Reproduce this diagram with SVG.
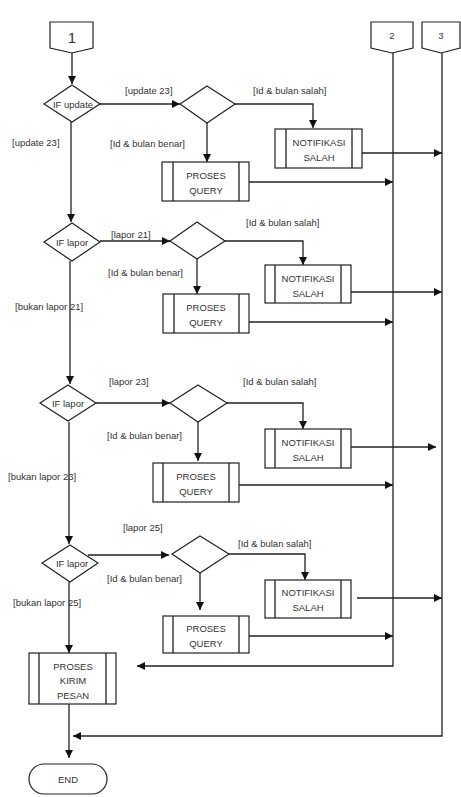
<svg xmlns="http://www.w3.org/2000/svg" width="461" height="797" viewBox="0 0 461 797">
<style>
.s{fill:#fff;stroke:#222;stroke-width:1.2}
.l{fill:none;stroke:#222;stroke-width:1.3}
.t{font-family:"Liberation Sans",Arial,sans-serif;font-size:9.5px;fill:#333;text-anchor:middle;dominant-baseline:central}
.lb{font-family:"Liberation Sans",Arial,sans-serif;font-size:9.5px;fill:#333;dominant-baseline:central}
</style>
<defs>
<marker id="ah" viewBox="0 0 10 10" refX="10" refY="5" markerWidth="9" markerHeight="8" markerUnits="userSpaceOnUse" orient="auto"><path d="M0,0 L10,5 L0,10 z" fill="#111"/></marker>
</defs>
<rect width="461" height="797" fill="#fff"/>

<g id="connectors">
<path class="l" d="M72,53 V84" marker-end="url(#ah)"/>
<path class="l" d="M100,104 H180" marker-end="url(#ah)"/>
<path class="l" d="M207,123 V162" marker-end="url(#ah)"/>
<path class="l" d="M235,104 H313 V128" marker-end="url(#ah)"/>
<path class="l" d="M362,153 H442" marker-end="url(#ah)"/>
<path class="l" d="M249,182 H393" marker-end="url(#ah)"/>
<path class="l" d="M71,122 V222" marker-end="url(#ah)"/>

<path class="l" d="M100,241 H170" marker-end="url(#ah)"/>
<path class="l" d="M197,259 V294" marker-end="url(#ah)"/>
<path class="l" d="M225,241 H303 V265" marker-end="url(#ah)"/>
<path class="l" d="M351,292 H442" marker-end="url(#ah)"/>
<path class="l" d="M249,322 H393" marker-end="url(#ah)"/>
<path class="l" d="M70,261 V384" marker-end="url(#ah)"/>

<path class="l" d="M96,403 H170" marker-end="url(#ah)"/>
<path class="l" d="M198,422 V461" marker-end="url(#ah)"/>
<path class="l" d="M227,403 H303 V429" marker-end="url(#ah)"/>
<path class="l" d="M351,447 H436" marker-end="url(#ah)"/>
<path class="l" d="M239,485 H393" marker-end="url(#ah)"/>
<path class="l" d="M69,422 V544" marker-end="url(#ah)"/>

<path class="l" d="M88,555 H169" marker-end="url(#ah)"/>
<path class="l" d="M200,573 V610" marker-end="url(#ah)"/>
<path class="l" d="M229,554 H305 V580" marker-end="url(#ah)"/>
<path class="l" d="M357,598 H442" marker-end="url(#ah)"/>
<path class="l" d="M249,636 H393" marker-end="url(#ah)"/>
<path class="l" d="M69,582 V653" marker-end="url(#ah)"/>

<path class="l" d="M393,53 V666 H137" marker-end="url(#ah)"/>
<path class="l" d="M442,53 V736 H73" marker-end="url(#ah)"/>
<path class="l" d="M69,704 V758" marker-end="url(#ah)"/>
</g>

<g id="c1"><path class="s" d="M50,22 H93 V48 L72,53 L50,48 Z"/><text class="t" x="72" y="37" style="font-size:15px">1</text></g>
<g id="c2"><path class="s" d="M371,22 H413 V48 L392,53 L371,48 Z"/><text class="t" x="392" y="35">2</text></g>
<g id="c3"><path class="s" d="M422,22 H460 V48 L441,53 L422,48 Z"/><text class="t" x="441" y="35">3</text></g>

<g id="if-update"><path class="s" d="M72,85 L100,104 L72,122 L44,104 Z"/><text class="t" x="73" y="104">IF update</text></g>
<g id="dec1"><path class="s" d="M207,86 L235,104 L207,123 L180,104 Z"/></g>
<g id="pq1"><rect class="s" x="162" y="162" width="87" height="39"/><path class="l" d="M173,162 V201 M239,162 V201"/><text class="t" x="206" y="175">PROSES</text><text class="t" x="206" y="190">QUERY</text></g>
<g id="nt1"><rect class="s" x="275" y="129" width="87" height="39"/><path class="l" d="M286,129 V168 M352,129 V168"/><text class="t" x="319" y="142">NOTIFIKASI</text><text class="t" x="319" y="157">SALAH</text></g>

<g id="if-lapor1"><path class="s" d="M72,223 L100,242 L72,261 L44,242 Z"/><text class="t" x="72" y="242">IF lapor</text></g>
<g id="dec2"><path class="s" d="M197,222 L225,241 L197,259 L170,241 Z"/></g>
<g id="pq2"><rect class="s" x="163" y="294" width="86" height="39"/><path class="l" d="M174,294 V333 M239,294 V333"/><text class="t" x="206" y="307">PROSES</text><text class="t" x="206" y="322">QUERY</text></g>
<g id="nt2"><rect class="s" x="265" y="265" width="86" height="38"/><path class="l" d="M275,265 V303 M341,265 V303"/><text class="t" x="308" y="278">NOTIFIKASI</text><text class="t" x="308" y="293">SALAH</text></g>

<g id="if-lapor2"><path class="s" d="M68,385 L96,403 L68,421 L40,403 Z"/><text class="t" x="68" y="403">IF lapor</text></g>
<g id="dec3"><path class="s" d="M198,385 L227,403 L198,422 L170,403 Z"/></g>
<g id="pq3"><rect class="s" x="153" y="463" width="86" height="39"/><path class="l" d="M163,463 V502 M229,463 V502"/><text class="t" x="196" y="476">PROSES</text><text class="t" x="196" y="491">QUERY</text></g>
<g id="nt3"><rect class="s" x="265" y="429" width="86" height="39"/><path class="l" d="M275,429 V468 M341,429 V468"/><text class="t" x="308" y="442">NOTIFIKASI</text><text class="t" x="308" y="457">SALAH</text></g>

<g id="if-lapor3"><path class="s" d="M70,545 L98,563 L70,582 L42,563 Z"/><text class="t" x="72" y="563">IF lapor</text></g>
<g id="dec4"><path class="s" d="M200,536 L229,554 L200,573 L172,554 Z"/></g>
<g id="pq4"><rect class="s" x="163" y="616" width="86" height="37"/><path class="l" d="M173,616 V653 M239,616 V653"/><text class="t" x="206" y="628">PROSES</text><text class="t" x="206" y="643">QUERY</text></g>
<g id="nt4"><rect class="s" x="265" y="580" width="86" height="38"/><path class="l" d="M275,580 V618 M341,580 V618"/><text class="t" x="308" y="592">NOTIFIKASI</text><text class="t" x="308" y="607">SALAH</text></g>

<g id="kirim"><rect class="s" x="29" y="653" width="87" height="51"/><path class="l" d="M39,653 V704 M106,653 V704"/><text class="t" x="73" y="666">PROSES</text><text class="t" x="73" y="680">KIRIM</text><text class="t" x="73" y="695">PESAN</text></g>
<g id="end"><rect class="s" x="29" y="764" width="78" height="30" rx="15"/><text class="t" x="68" y="779">END</text></g>

<g id="labels">
<text class="lb" x="125" y="90">[update 23]</text>
<text class="lb" x="12" y="142">[update 23]</text>
<text class="lb" x="110" y="143">[Id &amp; bulan benar]</text>
<text class="lb" x="253" y="90">[Id &amp; bulan salah]</text>
<text class="lb" x="111" y="234">[lapor 21]</text>
<text class="lb" x="108" y="272">[Id &amp; bulan benar]</text>
<text class="lb" x="246" y="222">[Id &amp; bulan salah]</text>
<text class="lb" x="15" y="306">[bukan lapor 21]</text>
<text class="lb" x="109" y="381">[lapor 23]</text>
<text class="lb" x="107" y="435">[Id &amp; bulan benar]</text>
<text class="lb" x="243" y="381">[Id &amp; bulan salah]</text>
<text class="lb" x="8" y="476">[bukan lapor 23]</text>
<text class="lb" x="123" y="527">[lapor 25]</text>
<text class="lb" x="107" y="578">[Id &amp; bulan benar]</text>
<text class="lb" x="238" y="543">[Id &amp; bulan salah]</text>
<text class="lb" x="13" y="602">[bukan lapor 25]</text>
</g>
</svg>
